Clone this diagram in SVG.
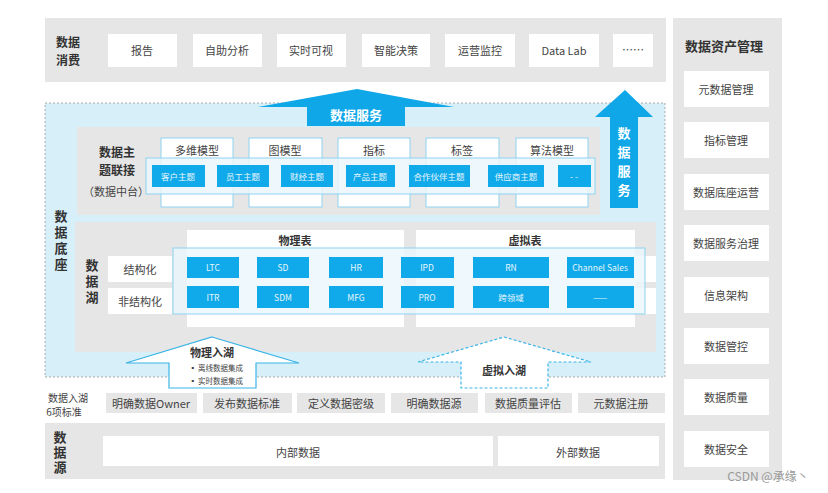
<svg xmlns="http://www.w3.org/2000/svg" width="828" height="493" viewBox="0 0 828 493">
<defs>
<style>
text{font-family:"Noto Sans CJK SC","Liberation Sans",sans-serif;fill:#333;text-anchor:middle;dominant-baseline:central}
.panel{fill:#e6e6e6}
.wbox{fill:#fff}
.h{font-size:13px;font-weight:bold;fill:#333}
.h2{font-size:12px;font-weight:bold;fill:#333}
.v{writing-mode:vertical-rl;letter-spacing:3px}
.t{font-size:11px;fill:#444}
.tb{font-size:11px;fill:#333;font-weight:bold}
.cell{fill:#10a9ea}
.ct{font-size:8.5px;fill:#e8f6fd}
.mbox{fill:#fff;stroke:#8fd3f0;stroke-width:1}
.std{fill:#e6e6e6}
.st{font-size:11px;fill:#444}
.wt{font-size:13px;font-weight:bold;fill:#fff}
</style>
</defs>
<rect width="828" height="493" fill="#fff"/>

<g id="consume">
<rect class="panel" x="45" y="18" width="621" height="64"/>
<text class="h2" x="68" y="41">数据</text>
<text class="h2" x="68" y="59">消费</text>
<rect class="wbox" x="108" y="34" width="69" height="33"/><text class="t" x="142" y="50">报告</text>
<rect class="wbox" x="193" y="34" width="69" height="33"/><text class="t" x="227" y="50">自助分析</text>
<rect class="wbox" x="277" y="34" width="69" height="33"/><text class="t" x="311" y="50">实时可视</text>
<rect class="wbox" x="362" y="34" width="68" height="33"/><text class="t" x="396" y="50">智能决策</text>
<rect class="wbox" x="445" y="34" width="70" height="33"/><text class="t" x="480" y="50">运营监控</text>
<rect class="wbox" x="529" y="34" width="70" height="33"/><text class="t" x="564" y="50">Data Lab</text>
<rect class="wbox" x="613" y="34" width="40" height="33"/><text class="t" x="633" y="49">……</text>
</g>

<g id="asset">
<rect class="panel" x="673" y="18" width="109" height="462"/>
<text class="h" x="724" y="45">数据资产管理</text>
<rect class="wbox" x="684" y="71" width="85" height="36"/><text class="t" x="726" y="89">元数据管理</text>
<rect class="wbox" x="684" y="122" width="85" height="36"/><text class="t" x="726" y="140">指标管理</text>
<rect class="wbox" x="684" y="174" width="85" height="36"/><text class="t" x="726" y="192">数据底座运营</text>
<rect class="wbox" x="684" y="225" width="85" height="36"/><text class="t" x="726" y="243">数据服务治理</text>
<rect class="wbox" x="684" y="277" width="85" height="36"/><text class="t" x="726" y="295">信息架构</text>
<rect class="wbox" x="684" y="328" width="85" height="36"/><text class="t" x="726" y="346">数据管控</text>
<rect class="wbox" x="684" y="379" width="85" height="36"/><text class="t" x="726" y="397">数据质量</text>
<rect class="wbox" x="684" y="431" width="85" height="36"/><text class="t" x="726" y="449">数据安全</text>
</g>

<g id="base">
<rect x="45" y="103" width="620" height="274" fill="#d7eff9" stroke="#aaa" stroke-width="1" stroke-dasharray="2,2"/>
<text class="h v" x="61" y="242">数据底座</text>
</g>

<g id="connectors">
<polygon points="357,89 454,107 405,107 405,126 307,126 307,107 258,107" fill="#0fa7e8"/>
<polygon points="625,90 653,117 638,117 638,208 610,208 610,117 595,117" fill="#0fa7e8"/>
</g>

<g id="service-labels">
<text class="wt" x="356" y="114">数据服务</text>
<text class="wt v" x="624" y="165" style="letter-spacing:6px">数据服务</text>
</g>

<g id="middle">
<rect class="panel" x="77" y="127" width="523" height="88"/>
<text class="h2" x="117" y="151">数据主</text>
<text class="h2" x="117" y="169">题联接</text>
<text class="t" x="116" y="191">（数据中台）</text>
<rect class="mbox" x="161" y="138" width="72" height="69"/><text class="t" x="197" y="150">多维模型</text>
<rect class="mbox" x="249" y="138" width="73" height="69"/><text class="t" x="285" y="150">图模型</text>
<rect class="mbox" x="338" y="138" width="72" height="69"/><text class="t" x="374" y="150">指标</text>
<rect class="mbox" x="426" y="138" width="73" height="69"/><text class="t" x="462" y="150">标签</text>
<rect class="mbox" x="516" y="138" width="72" height="69"/><text class="t" x="552" y="150">算法模型</text>
<rect x="146" y="158" width="449" height="36" fill="#eaf6fc" fill-opacity="0.85" stroke="#8fd3f0" stroke-width="1"/>
<rect class="cell" x="152" y="165" width="53" height="22"/><text class="ct" x="178" y="176">客户主题</text>
<rect class="cell" x="217" y="165" width="52" height="22"/><text class="ct" x="243" y="176">员工主题</text>
<rect class="cell" x="281" y="165" width="52" height="22"/><text class="ct" x="307" y="176">财经主题</text>
<rect class="cell" x="346" y="165" width="49" height="22"/><text class="ct" x="370" y="176">产品主题</text>
<rect class="cell" x="409" y="165" width="61" height="22"/><text class="ct" x="439" y="176">合作伙伴主题</text>
<rect class="cell" x="488" y="165" width="56" height="22"/><text class="ct" x="516" y="176">供应商主题</text>
<rect class="cell" x="558" y="165" width="33" height="22"/><text class="ct" x="574" y="176">- -</text>
</g>

<g id="lake">
<rect class="panel" x="75" y="222" width="581" height="130"/>
<text class="h v" x="92" y="283">数据湖</text>
<rect class="wbox" x="108" y="256" width="548" height="26"/>
<rect class="wbox" x="108" y="288" width="548" height="26"/>
<text class="t" x="140" y="269">结构化</text>
<text class="t" x="140" y="301">非结构化</text>
<rect fill="#e6e6e6" x="172" y="256" width="15" height="58"/>
<rect class="wbox" x="187" y="230" width="217" height="97"/>
<rect class="wbox" x="416" y="230" width="219" height="97"/>
<rect fill="#e6e6e6" x="404" y="230" width="12" height="97"/>
<text class="tb" x="295" y="240">物理表</text>
<text class="tb" x="525" y="240">虚拟表</text>
<rect x="173" y="248" width="472" height="66" fill="#eaf6fc" fill-opacity="0.8" stroke="#8fd3f0" stroke-width="1"/>
<rect class="cell" x="187" y="257" width="52" height="21"/><text class="ct" x="213" y="267">LTC</text>
<rect class="cell" x="257" y="257" width="52" height="21"/><text class="ct" x="283" y="267">SD</text>
<rect class="cell" x="329" y="257" width="54" height="21"/><text class="ct" x="356" y="267">HR</text>
<rect class="cell" x="401" y="257" width="53" height="21"/><text class="ct" x="427" y="267">IPD</text>
<rect class="cell" x="473" y="257" width="76" height="21"/><text class="ct" x="511" y="267">RN</text>
<rect class="cell" x="567" y="257" width="67" height="21"/><text class="ct" x="600" y="267">Channel Sales</text>
<rect class="cell" x="187" y="286" width="52" height="22"/><text class="ct" x="213" y="297">ITR</text>
<rect class="cell" x="257" y="286" width="52" height="22"/><text class="ct" x="283" y="297">SDM</text>
<rect class="cell" x="329" y="286" width="54" height="22"/><text class="ct" x="356" y="297">MFG</text>
<rect class="cell" x="401" y="286" width="53" height="22"/><text class="ct" x="427" y="297">PRO</text>
<rect class="cell" x="473" y="286" width="76" height="22"/><text class="ct" x="511" y="297">跨领域</text>
<rect class="cell" x="567" y="286" width="67" height="22"/><text class="ct" x="600" y="297">——</text>
</g>

<g id="ingest-physical">
<polygon points="212,337 299,363 256,363 256,388 169,388 169,363 126,363" fill="#fff" stroke="#3bb4e6" stroke-width="1.2"/>
<text class="tb" x="212" y="352">物理入湖</text>
<text x="216" y="367" style="font-size:7.5px;fill:#444">▪ 离线数据集成</text>
<text x="216" y="380" style="font-size:7.5px;fill:#444">▪ 实时数据集成</text>
</g>

<g id="ingest-virtual">
<polygon points="504,337 591,362 548,362 548,388 461,388 461,362 418,362" fill="#fff" stroke="#3bb4e6" stroke-width="1.2" stroke-dasharray="3,2"/>
<text class="tb" x="504" y="370">虚拟入湖</text>
</g>

<g id="standards">
<text x="68" y="397" style="font-size:10px;fill:#444">数据入湖</text>
<text x="64" y="411" style="font-size:10px;fill:#444">6项标准</text>
<rect class="std" x="106" y="393" width="91" height="20"/><text class="st" x="151" y="403">明确数据Owner</text>
<rect class="std" x="203" y="393" width="89" height="20"/><text class="st" x="247" y="403">发布数据标准</text>
<rect class="std" x="297" y="393" width="88" height="20"/><text class="st" x="341" y="403">定义数据密级</text>
<rect class="std" x="391" y="393" width="87" height="20"/><text class="st" x="434" y="403">明确数据源</text>
<rect class="std" x="485" y="393" width="87" height="20"/><text class="st" x="528" y="403">数据质量评估</text>
<rect class="std" x="578" y="393" width="87" height="20"/><text class="st" x="621" y="403">元数据注册</text>
</g>

<g id="source">
<rect class="panel" x="45" y="423" width="620" height="56"/>
<text class="h v" x="60" y="453" style="letter-spacing:2px">数据源</text>
<rect class="wbox" x="103" y="436" width="390" height="30"/><text class="t" x="298" y="452">内部数据</text>
<rect class="wbox" x="498" y="436" width="161" height="30"/><text class="t" x="578" y="452">外部数据</text>
</g>

<text x="768" y="475" style="font-size:12px;fill:#999">CSDN @承缘丶</text>
</svg>
